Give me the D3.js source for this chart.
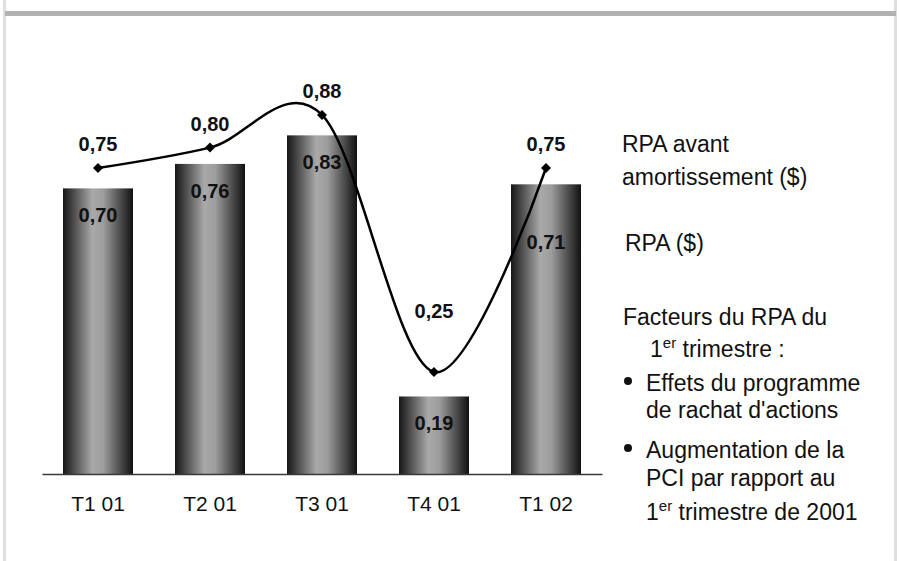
<!DOCTYPE html>
<html>
  <head>
    <meta charset="UTF-8">
    <title>RPA trimestriel</title>
    <script src="https://cdn.jsdelivr.net/npm/d3@7"></script>
    <style>
      body { margin: 0; background: #fff; }
      svg { display: block; font-family: "Liberation Sans", Arial, sans-serif; }
    </style>
  </head>
  <body>
    <svg width="899" height="561"></svg>
  </body>
  <script>

    // Quarters on the x axis
    var quarters = ["T1 01", "T2 01", "T3 01", "T4 01", "T1 02"];
    // RPA ($) -- the bars
    var rpa = [0.70, 0.76, 0.83, 0.19, 0.71];
    // RPA avant amortissement ($) -- the smoothed line
    var rpaAvant = [0.75, 0.80, 0.88, 0.25, 0.75];

    // Side text, "{..}" marks a superscript
    var legendText = [
      "RPA avant",
      "amortissement ($)",
      "RPA ($)",
      "Facteurs du RPA du",
      "1{er} trimestre :",
      "Effets du programme",
      "de rachat d'actions",
      "Augmentation de la",
      "PCI par rapport au",
      "1{er} trimestre de 2001"
    ];

    var svg = d3.select("svg");

    var fr = d3.formatLocale({decimal: ",", thousands: " ", grouping: [3], currency: ["", " $"]});
    var fmt = fr.format(".2f");

    // frame bits
    svg.append("rect").attr("x", 3).attr("y", 0).attr("width", 3).attr("height", 561).attr("fill", "#dedede");
    svg.append("rect").attr("x", 894).attr("y", 0).attr("width", 3).attr("height", 561).attr("fill", "#dedede");
    svg.append("rect").attr("x", 5).attr("y", 11).attr("width", 891).attr("height", 5).attr("fill", "#b2b2b2");

    var x = d3.scaleBand()
      .domain(quarters)
      .range([42, 602])
      .paddingInner(0.375)
      .paddingOuter(0.1875);

    var y = d3.scaleLinear()
      .domain([0, 1])
      .range([474, 66]);

    // cylinder look for the bars
    var grad = svg.append("defs").append("linearGradient")
      .attr("id", "cyl")
      .attr("x1", "0%").attr("x2", "100%").attr("y1", "0%").attr("y2", "0%");
    grad.append("stop").attr("offset", "0%").attr("stop-color", "#161616");
    grad.append("stop").attr("offset", "42%").attr("stop-color", "#a9a9a9");
    grad.append("stop").attr("offset", "58%").attr("stop-color", "#9c9c9c");
    grad.append("stop").attr("offset", "100%").attr("stop-color", "#101010");

    var g = svg.append("g");

    g.selectAll(".bar")
      .data(rpa)
      .enter().append("rect")
      .attr("class", "bar")
      .attr("x", function(d, i) { return x(quarters[i]); })
      .attr("y", function(d) { return y(d); })
      .attr("width", x.bandwidth())
      .attr("height", function(d) { return y(0) - y(d); })
      .attr("fill", "url(#cyl)");

    // baseline
    var xAxis = g.append("g")
      .attr("transform", "translate(0," + y(0) + ")")
      .call(d3.axisBottom(x).tickSize(0).tickPadding(22));
    xAxis.select(".domain").attr("stroke", "#3a3a3a").attr("stroke-width", 1.5);
    xAxis.selectAll("text")
      .attr("font-size", 21)
      .attr("font-family", "Liberation Sans, Arial, sans-serif")
      .attr("fill", "#111");

    // bar value labels (the last one sits lower, under the line)
    g.selectAll(".barlab")
      .data(rpa)
      .enter().append("text")
      .attr("class", "barlab")
      .attr("x", function(d, i) { return x(quarters[i]) + x.bandwidth() / 2; })
      .attr("y", function(d, i) { return y(d) + (i === rpa.length - 1 ? 65 : 34); })
      .attr("text-anchor", "middle")
      .attr("font-size", 20)
      .attr("font-weight", "bold")
      .attr("fill", "#111")
      .text(function(d) { return fmt(d); });

    var cx = function(i) { return x(quarters[i]) + x.bandwidth() / 2; };

    var line = d3.line()
      .x(function(d, i) { return cx(i); })
      .y(function(d) { return y(d); })
      .curve(d3.curveCardinal.tension(0));

    g.append("path")
      .datum(rpaAvant)
      .attr("d", line)
      .attr("fill", "none")
      .attr("stroke", "#000")
      .attr("stroke-width", 2.5);

    g.selectAll(".mark")
      .data(rpaAvant)
      .enter().append("path")
      .attr("class", "mark")
      .attr("d", d3.symbol(d3.symbolSquare, 50))
      .attr("transform", function(d, i) { return "translate(" + cx(i) + "," + y(d) + ") rotate(45)"; })
      .attr("fill", "#000");

    // line value labels (T4 dips, so its label is kept above the curve)
    g.selectAll(".linelab")
      .data(rpaAvant)
      .enter().append("text")
      .attr("class", "linelab")
      .attr("x", function(d, i) { return cx(i); })
      .attr("y", function(d, i) { return y(d) - (i === 3 ? 54 : 17); })
      .attr("text-anchor", "middle")
      .attr("font-size", 20)
      .attr("font-weight", "bold")
      .attr("fill", "#111")
      .text(function(d) { return fmt(d); });

    // side text
    var legX = [622, 622, 625, 623, 650, 646, 646, 646, 646, 646];
    var legY = [152, 185, 251, 325, 357, 391, 418, 458, 486, 520];
    var bullets = [5, 7];

    var leg = svg.append("g").attr("font-size", 23).attr("fill", "#111");
    legendText.forEach(function(s, i) {
      var t = leg.append("text").attr("x", legX[i]).attr("y", legY[i]);
      var shift = 0;
      s.split(/(\{[^}]*\})/).forEach(function(part) {
        if (!part) return;
        if (part[0] === "{") {
          t.append("tspan").attr("font-size", 15).attr("dy", -9).text(part.slice(1, -1));
          shift = 9;
        } else {
          t.append("tspan").attr("dy", shift).text(part);
          shift = 0;
        }
      });
    });
    bullets.forEach(function(i) {
      leg.append("circle").attr("cx", 628).attr("cy", legY[i] - 10).attr("r", 4).attr("fill", "#111");
    });

  </script>
</html>
